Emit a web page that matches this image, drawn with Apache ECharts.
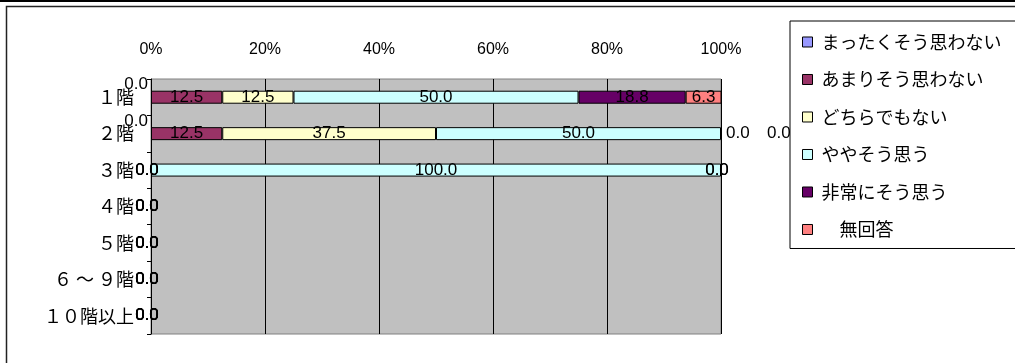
<!DOCTYPE html>
<html><head><meta charset="utf-8">
<script src="https://cdn.jsdelivr.net/npm/echarts@6/dist/echarts.min.js"></script>
<style>html,body{margin:0;padding:0;background:#fff}#c{width:1015px;height:363px}</style>
</head><body><div id="c"></div>
<script>
const categories = ['１階','２階','３階','４階','５階','６ ～ ９階','１０階以上'];
const seriesNames = ['まったくそう思わない','あまりそう思わない','どちらでもない','ややそう思う','非常にそう思う','　無回答'];
const v0 = [0,0,0,0,0,0,0];
const v1 = [12.5,12.5,0,0,0,0,0];
const v2 = [12.5,37.5,0,0,0,0,0];
const v3 = [50.0,50.0,100.0,0,0,0,0];
const v4 = [18.8,0,0,0,0,0,0];
const v5 = [6.3,0,0,0,0,0,0];
const xTicks = [0,20,40,60,80,100];

const seriesValues = [v0,v1,v2,v3,v4,v5];
const colors = ['#9999FF','#993366','#FFFFCC','#CCFFFF','#660066','#FF8080'];
const numFont = 'Liberation Sans';
const jpFont = '"Noto Sans CJK JP"';

// special label placement (style only, keyed by series index and row)
function labelFor(s, i, v) {
  if (s === 0 && (i === 0 || i === 1)) return {position: [-3, -6], align: 'right', verticalAlign: 'middle'};
  if (s === 4 && i === 1) return {position: 'right', distance: 5};
  if (s === 5 && i === 1) return {position: 'right', distance: 46};
  if (v === 0) return {offset: [-4, 0]};
  return null;
}

const series = seriesValues.map((vals, s) => ({
  name: seriesNames[s],
  type: 'bar',
  stack: 'total',
  barWidth: 13,
  itemStyle: {color: colors[s], borderColor: '#000', borderWidth: 1},
  label: {show: true, position: 'inside', color: '#000', fontFamily: numFont, fontSize: 17,
          formatter: p => Number(p.value).toFixed(1)},
  emphasis: {disabled: true},
  data: vals.map((v, i) => {
    const item = {value: v};
    const l = labelFor(s, i, v);
    if (l) item.label = l;
    if (v === 0) item.itemStyle = {borderWidth: 0};
    return item;
  })
}));

const chart = echarts.init(document.getElementById('c'), null, {renderer: 'canvas'});
chart.setOption({
  animation: false,
  backgroundColor: '#fff',
  graphic: [
    {type: 'rect', shape: {x: 0, y: 0, width: 1015, height: 2}, style: {fill: '#000'}, z: 0},
    {type: 'rect', shape: {x: 6.5, y: 6.5, width: 1020, height: 400}, style: {fill: 'none', stroke: '#222', lineWidth: 1.5}, z: 0}
  ],
  grid: {left: 151, top: 79, width: 570, height: 255, show: true, backgroundColor: '#C0C0C0', borderColor: '#808080', borderWidth: 1},
  legend: {
    orient: 'vertical', left: 790, top: 21,
    padding: [12, 80, 10, 12],
    itemGap: 19.5, itemWidth: 10, itemHeight: 10, icon: 'rect',
    backgroundColor: '#fff', borderColor: '#000', borderWidth: 1,
    itemStyle: {borderColor: '#000', borderWidth: 1},
    textStyle: {fontFamily: jpFont, fontSize: 18, color: '#000', padding: [0, 0, 0, 4]},
    selectedMode: false,
    data: seriesNames
  },
  xAxis: {
    type: 'value', position: 'top', min: xTicks[0], max: xTicks[xTicks.length - 1], interval: 20,
    axisLine: {show: false}, axisTick: {show: false},
    splitLine: {show: true, lineStyle: {color: '#000', width: 1}},
    axisLabel: {formatter: '{value}%', margin: 21, fontFamily: numFont, fontSize: 16, color: '#000'}
  },
  yAxis: {
    type: 'category', inverse: true, data: categories,
    axisLine: {show: true, lineStyle: {color: '#000', width: 1}},
    axisTick: {show: true, length: 4, inside: false, lineStyle: {color: '#000'}},
    axisLabel: {margin: 17, fontFamily: jpFont, fontSize: 18, color: '#000'}
  },
  series: series
});
</script></body></html>
